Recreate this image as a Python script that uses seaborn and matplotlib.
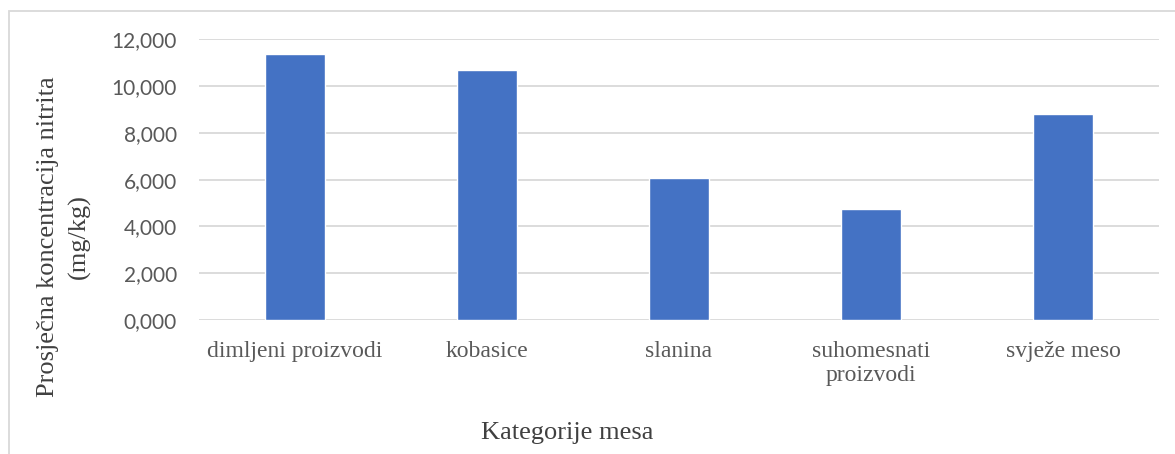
import matplotlib
matplotlib.use("Agg")
import matplotlib.pyplot as plt
import matplotlib.ticker as mticker
from matplotlib.patches import Rectangle
import seaborn as sns
import pandas as pd

# values (mg/kg)
categories = ["dimljeni proizvodi", "kobasice", "slanina", "suhomesnati\nproizvodi", "svježe meso"]
concentrations = [11.37, 10.67, 6.07, 4.73, 8.80]
y_ticks = [0, 2, 4, 6, 8, 10, 12]

df = pd.DataFrame({"Kategorija": categories, "Koncentracija": concentrations})

sns.set_theme(style="white")
plt.rcParams["font.family"] = ["Lato", "DejaVu Sans"]

W, H = 1175, 454
fig = plt.figure(figsize=(W / 100, H / 100), dpi=100)
ax = fig.add_axes([199 / W, 1 - 320 / H, (1159 - 199) / W, (320 - 39.3) / H])

sns.barplot(data=df, x="Kategorija", y="Koncentracija", color="#4472C4",
            width=0.31, saturation=1, ax=ax, zorder=3)

ax.set_ylim(0, 12)
ax.set_xlim(-0.5, len(categories) - 0.5)
ax.set_yticks(y_ticks)
ax.yaxis.set_major_formatter(mticker.FuncFormatter(lambda v, p: f"{v:.3f}".replace(".", ",")))
ax.grid(axis="y", color="#D9D9D9", linewidth=1.3, zorder=0)
for s in ax.spines.values():
    s.set_visible(False)
ax.tick_params(axis="both", length=0)
ax.tick_params(axis="y", pad=16, labelsize=15, labelcolor="#595959")
ax.tick_params(axis="x", pad=15, labelsize=17, labelcolor="#595959")
for t in ax.get_xticklabels():
    t.set_family("Liberation Serif")
ax.set_xlabel("")
ax.set_ylabel("")

fig.text(64 / W, 1 - 237 / H, "Prosječna koncentracija nitrita\n(mg/kg)", rotation=90,
         ha="center", va="center", family="Liberation Serif", fontsize=19,
         color="#404040", linespacing=1.5)
fig.text(567 / W, 1 - 433 / H, "Kategorije mesa", ha="center", va="center",
         family="Liberation Serif", fontsize=19, color="#404040")

# chart area border (Excel frame, cut off at right/bottom)
fig.patches.append(Rectangle((9 / W, -0.1), 1.2, 1 - 11.5 / H + 0.1,
                             transform=fig.transFigure, fill=False,
                             edgecolor="#D9D9D9", linewidth=1.3))

fig.savefig("out.png", dpi=100)
